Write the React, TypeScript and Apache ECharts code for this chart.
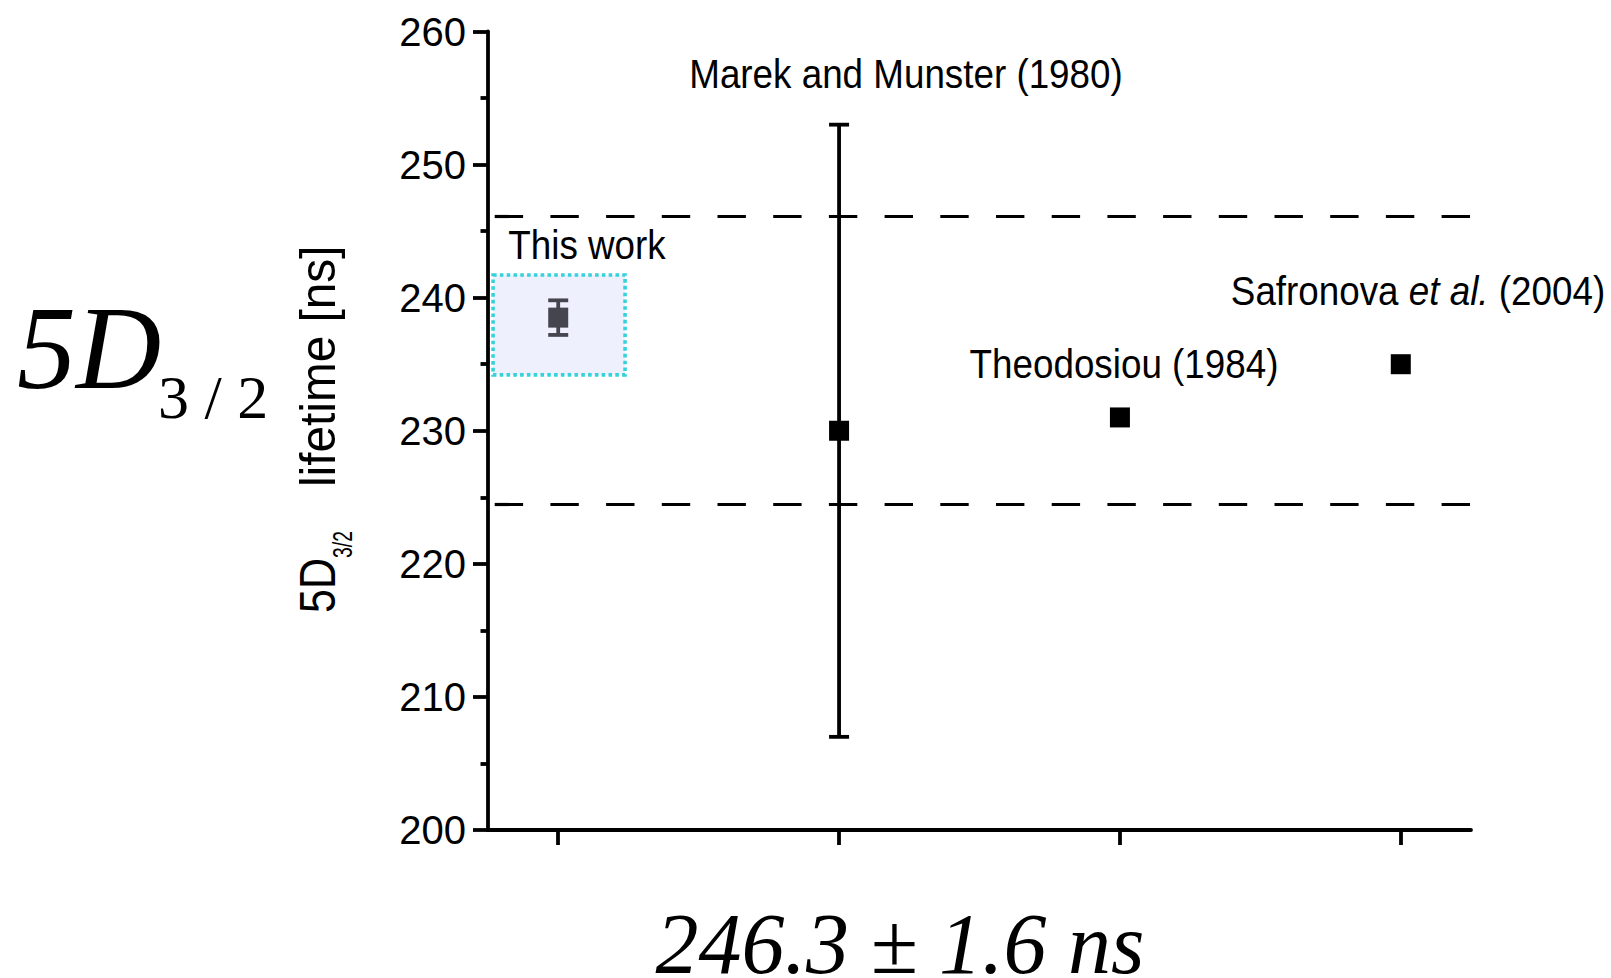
import React, { useEffect, useRef } from 'react';
import * as echarts from 'echarts';

// Lifetime measurements / calculations of the 5D3/2 level
const studies = ['This work', 'Marek and Munster (1980)', 'Theodosiou (1984)', 'Safronova et al. (2004)'];
const positions = [1, 2, 3, 4];
const lifetimes = [238.5, 230, 231, 235];
const uncertainties = [1.3, 23, 0, 0];
// dashed horizontal reference band
const bandLimits = [246.1, 224.5];
// y axis range and step
const yRange = [200, 260];
const yStep = 10;
// highlighted region around our own result (data coordinates)
const highlightX = [0.768, 1.238];
const highlightY = [234.2, 241.7];

const SANS = "'Liberation Sans', Arial, Helvetica, sans-serif";
const SERIF = "'Liberation Serif', 'Times New Roman', Times, serif";
const markerColors = ['#45454f', '#000000', '#000000', '#000000'];

// label anchors (pixel centre of each study caption)
const labelAnchors: [number, number][] = [
  [587, 244.5],
  [906, 74],
  [1124, 363.5],
  [1418, 291],
];

export default function App() {
  const ref = useRef<HTMLDivElement>(null);

  useEffect(() => {
    if (!ref.current) return;
    const chart = echarts.init(ref.current, null, { renderer: 'svg' });

    const errorData = positions
      .map((x, i) => [x, lifetimes[i] - uncertainties[i], lifetimes[i] + uncertainties[i], i])
      .filter((_, i) => uncertainties[i] > 0);

    const renderErrorBar = (_params: any, api: any) => {
      const x = api.value(0);
      const lo = api.value(1);
      const hi = api.value(2);
      const color = markerColors[api.value(3)];
      const top = api.coord([x, hi]);
      const bot = api.coord([x, lo]);
      const hw = 10;
      const style = { stroke: color, lineWidth: 3.8, fill: 'none' };
      return {
        type: 'group',
        children: [
          { type: 'line', shape: { x1: top[0], y1: top[1], x2: bot[0], y2: bot[1] }, style },
          { type: 'line', shape: { x1: top[0] - hw, y1: top[1], x2: top[0] + hw, y2: top[1] }, style },
          { type: 'line', shape: { x1: bot[0] - hw, y1: bot[1], x2: bot[0] + hw, y2: bot[1] }, style },
        ],
      };
    };

    const captionRich = {
      r: { fontSize: 40, fontFamily: SANS, fill: '#000', color: '#000' },
      i: { fontSize: 40, fontFamily: SANS, fontStyle: 'italic', fill: '#000', color: '#000' },
    };

    const captions = studies.map((s, i) => ({
      type: 'text',
      x: labelAnchors[i][0],
      y: labelAnchors[i][1],
      scaleX: 0.92,
      z: 10,
      style: {
        text: `{r|${s.replace('et al.', '}{i|et al.}{r|')}}`,
        rich: captionRich,
        align: 'center',
        verticalAlign: 'middle',
        fill: '#000',
      },
    }));

    const axisLineStyle = { color: '#000', width: 3.8 };

    const option: any = {
      animation: false,
      backgroundColor: '#ffffff',
      grid: {
        left: 488,
        right: 140,
        top: 31.5,
        bottom: 148,
        containLabel: false,
        outerBoundsMode: 'none',
      },
      xAxis: {
        type: 'value',
        min: 0.75,
        max: 4.25,
        axisLine: { show: true, onZero: false, lineStyle: axisLineStyle },
        axisTick: { show: true, customValues: positions, length: 15, lineStyle: axisLineStyle },
        axisLabel: { show: false },
        splitLine: { show: false },
      },
      yAxis: {
        type: 'value',
        min: yRange[0],
        max: yRange[1],
        interval: yStep,
        axisLine: { show: true, onZero: false, lineStyle: axisLineStyle },
        axisTick: { show: true, length: 15, lineStyle: axisLineStyle },
        minorTick: { show: true, splitNumber: 2, length: 7.5, lineStyle: axisLineStyle },
        axisLabel: { color: '#000', fontSize: 40, fontFamily: SANS, margin: 22 },
        splitLine: { show: false },
        minorSplitLine: { show: false },
      },
      series: [
        {
          type: 'line',
          data: [],
          z: 1,
          silent: true,
          markArea: {
            silent: true,
            itemStyle: {
              color: '#eff0fd',
              borderColor: '#36d2da',
              borderWidth: 3.6,
              borderType: [3.6, 3.2],
              opacity: 1,
            },
            data: [[{ coord: [highlightX[0], highlightY[1]] }, { coord: [highlightX[1], highlightY[0]] }]],
          },
          markLine: {
            silent: true,
            symbol: ['none', 'none'],
            label: { show: false },
            lineStyle: { color: '#000', width: 3.2, type: [28.4, 27.3], dashOffset: 48.7, opacity: 1 },
            emphasis: { disabled: true },
            data: bandLimits.map((v) => ({ yAxis: v })),
          },
        },
        {
          type: 'custom',
          z: 3,
          silent: true,
          renderItem: renderErrorBar,
          encode: { x: 0, y: [1, 2] },
          data: errorData,
        },
        {
          type: 'scatter',
          z: 4,
          silent: true,
          symbol: 'rect',
          symbolSize: 20,
          data: positions.map((x, i) => ({
            value: [x, lifetimes[i]],
            itemStyle: { color: markerColors[i], opacity: 1 },
          })),
        },
      ],
      graphic: [
        // rotated y-axis title: 5D_{3/2} lifetime [ns]
        {
          type: 'group',
          x: 335,
          y: 613,
          rotation: Math.PI / 2,
          z: 10,
          children: [
            {
              type: 'text',
              x: 0,
              y: -17.5,
              scaleX: 0.86,
              style: { text: '5D', fontSize: 50, fontFamily: SANS, fill: '#000', align: 'left', verticalAlign: 'middle' },
            },
            {
              type: 'text',
              x: 55,
              y: 8,
              scaleX: 0.72,
              style: { text: '3/2', fontSize: 27, fontFamily: SANS, fill: '#000', align: 'left', verticalAlign: 'middle' },
            },
            {
              type: 'text',
              x: 126,
              y: -17.5,
              scaleX: 0.955,
              style: { text: 'lifetime [ns]', fontSize: 50, fontFamily: SANS, fill: '#000', align: 'left', verticalAlign: 'middle' },
            },
          ],
        },
        // large state label on the left
        {
          type: 'text',
          x: 17,
          y: 348,
          z: 10,
          style: {
            text: '5D',
            fontSize: 118,
            fontFamily: SERIF,
            fontStyle: 'italic',
            fill: '#000',
            align: 'left',
            verticalAlign: 'middle',
          },
        },
        {
          type: 'text',
          x: 158,
          y: 397,
          z: 10,
          style: { text: '3 / 2', fontSize: 62, fontFamily: SERIF, fill: '#000', align: 'left', verticalAlign: 'middle' },
        },
        // reference value below the plot
        {
          type: 'text',
          x: 900,
          y: 944,
          z: 10,
          style: {
            text: '246.3 ± 1.6 ns',
            fontSize: 86,
            fontFamily: SERIF,
            fontStyle: 'italic',
            fill: '#000',
            align: 'center',
            verticalAlign: 'middle',
          },
        },
        ...captions,
      ],
    };

    chart.setOption(option);
    return () => chart.dispose();
  }, []);

  return (
    <div
      ref={ref}
      style={{ position: 'absolute', left: 0, top: 0, width: 1611, height: 978, background: '#fff' }}
    />
  );
}
